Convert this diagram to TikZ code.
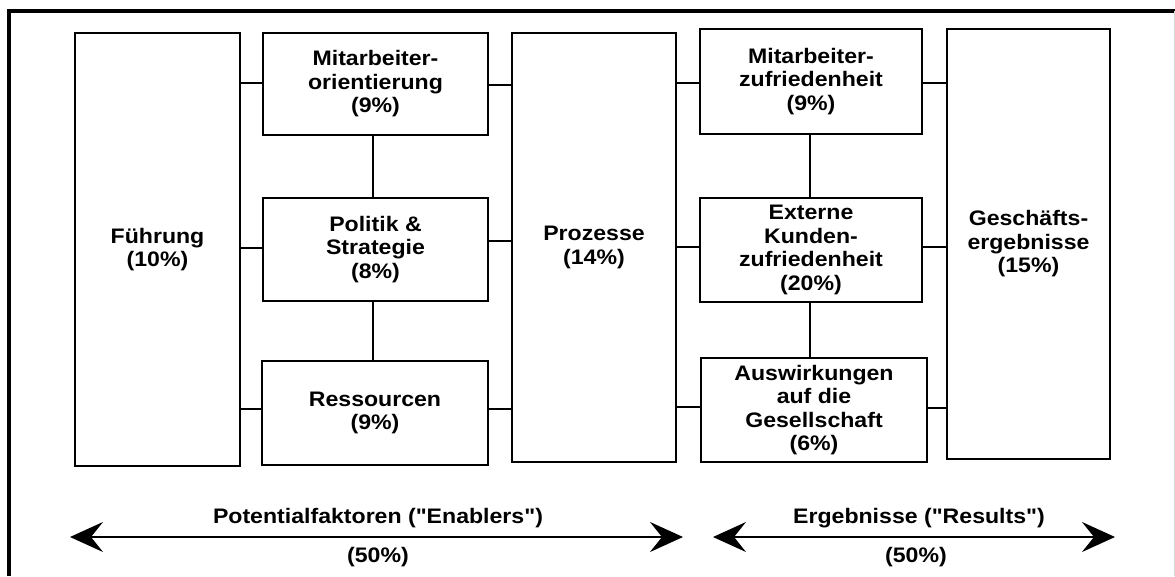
\documentclass[tikz,border=0pt]{standalone}
\usepackage{fontspec}
\newfontfamily\arialb{Liberation Sans}[FakeStretch=1.1]
\usetikzlibrary{arrows.meta}
\begin{document}
\begin{tikzpicture}[x=1pt,y=-1pt,
  box/.style={draw=black,line width=2pt,rectangle,inner sep=0pt,align=center,
    font=\arialb\fontsize{21}{23.5}\selectfont\bfseries},
  conn/.style={line width=1.6pt},
  lbl/.style={inner sep=0pt,font=\arialb\fontsize{21}{24}\selectfont\bfseries},
  bigarrow/.style={line width=1.4pt,{Stealth[length=33pt,width=30pt,inset=12pt]}-{Stealth[length=33pt,width=30pt,inset=12pt]}}]
\useasboundingbox (0,0) rectangle (1175,576);
% outer frame
\draw[line width=4pt] (9,576) -- (9,11) -- (1175,11);
\draw[line width=0.6pt,black!15] (1174,11) -- (1174,576);
% boxes
\node[box,minimum width=165pt,minimum height=433pt] (F) at (157.5,249.5) {F\"uhrung\\(10\%)};
\node[box,minimum width=225pt,minimum height=102pt] (MO) at (375.5,84) {Mitarbeiter-\\orientierung\\(9\%)};
\node[box,minimum width=225pt,minimum height=103pt] (PS) at (375.5,249.5) {Politik \&\\Strategie\\(8\%)};
\node[box,minimum width=226pt,minimum height=104pt] (R) at (375,413) {Ressourcen\\(9\%)};
\node[box,minimum width=164pt,minimum height=429pt] (P) at (594,247.5) {Prozesse\\(14\%)};
\node[box,minimum width=222pt,minimum height=105pt] (MZ) at (811,81.5) {Mitarbeiter-\\zufriedenheit\\(9\%)};
\node[box,minimum width=222pt,minimum height=104pt] (EK) at (811,250) {Externe\\Kunden-\\zufriedenheit\\(20\%)};
\node[box,minimum width=226pt,minimum height=104pt] (A) at (814,410) {Auswirkungen\\auf die\\Gesellschaft\\(6\%)};
\node[box,minimum width=163pt,minimum height=430pt] (G) at (1028.5,244) {Gesch\"afts-\\ergebnisse\\(15\%)};
% horizontal connectors
\draw[conn] (F.east |- 0,83) -- (MO.west |- 0,83);
\draw[conn] (F.east |- 0,248) -- (PS.west |- 0,248);
\draw[conn] (F.east |- 0,409) -- (R.west |- 0,409);
\draw[conn] (MO.east |- 0,85) -- (P.west |- 0,85);
\draw[conn] (PS.east |- 0,241) -- (P.west |- 0,241);
\draw[conn] (R.east |- 0,409) -- (P.west |- 0,409);
\draw[conn] (P.east |- 0,83) -- (MZ.west |- 0,83);
\draw[conn] (P.east |- 0,247) -- (EK.west |- 0,247);
\draw[conn] (P.east |- 0,407) -- (A.west |- 0,407);
\draw[conn] (MZ.east |- 0,83) -- (G.west |- 0,83);
\draw[conn] (EK.east |- 0,247) -- (G.west |- 0,247);
\draw[conn] (A.east |- 0,408) -- (G.west |- 0,408);
% vertical connectors
\draw[conn] (373,0 |- MO.south) -- (373,0 |- PS.north);
\draw[conn] (373,0 |- PS.south) -- (373,0 |- R.north);
\draw[conn] (810,0 |- MZ.south) -- (810,0 |- EK.north);
\draw[conn] (810,0 |- EK.south) -- (810,0 |- A.north);
% bottom arrows
\coordinate (L1) at (70,537);
\coordinate (R1) at (683,537);
\coordinate (L2) at (713,537);
\coordinate (R2) at (1115,537);
\draw[bigarrow] (L1) -- (R1);
\draw[bigarrow] (L2) -- (R2);
\node[lbl] (enl) at (378,518) {Potentialfaktoren ("Enablers")};
\node[lbl] (enp) at (378,557) {(50\%)};
\node[lbl] (erl) at (919,518) {Ergebnisse ("Results")};
\node[lbl] (erp) at (916,557) {(50\%)};
\end{tikzpicture}
\end{document}
